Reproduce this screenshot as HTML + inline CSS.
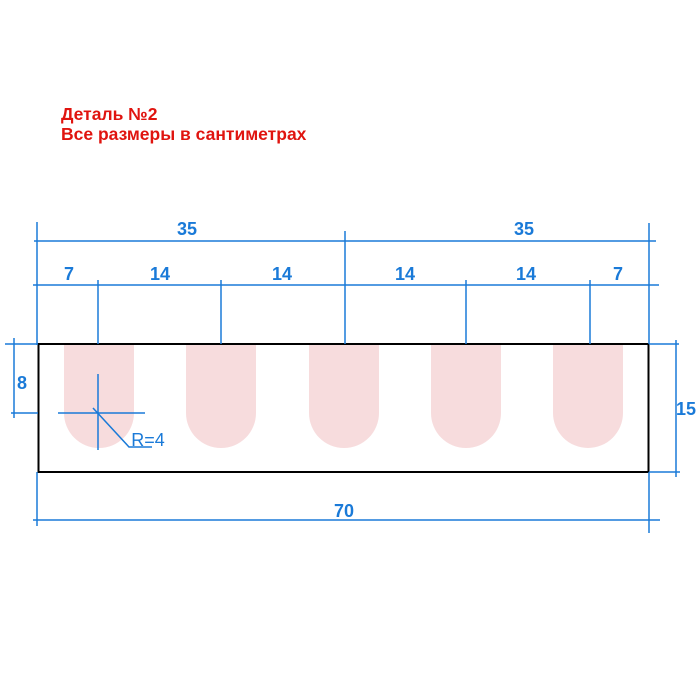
<!DOCTYPE html>
<html><head><meta charset="utf-8"><style>body{margin:0;background:#fff}svg{display:block}</style></head>
<body>
<svg width="700" height="700" viewBox="0 0 700 700" xmlns="http://www.w3.org/2000/svg">
<rect width="700" height="700" fill="#fff"/>
<g font-family="Liberation Sans, Noto Sans CJK SC, sans-serif" font-weight="bold" font-size="17.5" fill="#e0140f">
<text x="61" y="120">Деталь №2</text>
<text x="61" y="140">Все размеры в сантиметрах</text>
</g>
<g fill="#f7dcdd">
<path d="M64 344 H134 V413 A35 35 0 0 1 64 413 Z"/>
<path d="M186 344 H256 V413 A35 35 0 0 1 186 413 Z"/>
<path d="M309 344 H379 V413 A35 35 0 0 1 309 413 Z"/>
<path d="M431 344 H501 V413 A35 35 0 0 1 431 413 Z"/>
<path d="M553 344 H623 V413 A35 35 0 0 1 553 413 Z"/>
</g>
<rect x="38.5" y="344" width="610" height="128" fill="none" stroke="#000" stroke-width="2"/>
<g stroke="#1a7ad8" stroke-width="1.5" fill="none">
<line x1="34" y1="241" x2="656" y2="241"/>
<line x1="33" y1="285" x2="659" y2="285"/>
<line x1="37" y1="222" x2="37" y2="345"/>
<line x1="345" y1="231" x2="345" y2="344"/>
<line x1="649" y1="223" x2="649" y2="344"/>
<line x1="98" y1="280" x2="98" y2="344"/>
<line x1="221" y1="280" x2="221" y2="344"/>
<line x1="466" y1="280" x2="466" y2="344"/>
<line x1="590" y1="280" x2="590" y2="344"/>
<line x1="14" y1="338" x2="14" y2="418"/>
<line x1="5" y1="344" x2="38" y2="344"/>
<line x1="11" y1="413" x2="38" y2="413"/>
<line x1="676" y1="340" x2="676" y2="477"/>
<line x1="649" y1="344" x2="679" y2="344"/>
<line x1="649" y1="472" x2="680" y2="472"/>
<line x1="33" y1="520" x2="660" y2="520"/>
<line x1="37" y1="472" x2="37" y2="526"/>
<line x1="649" y1="472" x2="649" y2="533"/>
<line x1="98" y1="374" x2="98" y2="450"/>
<line x1="58" y1="413" x2="145" y2="413"/>
<polyline points="93,408 129,447 152,447"/>
</g>
<g font-family="Liberation Sans, sans-serif" font-weight="bold" font-size="18" fill="#1a7ad8" text-anchor="middle">
<text x="187" y="235">35</text>
<text x="524" y="235">35</text>
<text x="69" y="280">7</text>
<text x="160" y="280">14</text>
<text x="282" y="280">14</text>
<text x="405" y="280">14</text>
<text x="526" y="280">14</text>
<text x="618" y="280">7</text>
<text x="22" y="389">8</text>
<text x="686" y="415">15</text>
<text x="344" y="517">70</text>
<text x="148" y="446" font-weight="normal" font-size="18">R=4</text>
</g>
</svg>
</body></html>
